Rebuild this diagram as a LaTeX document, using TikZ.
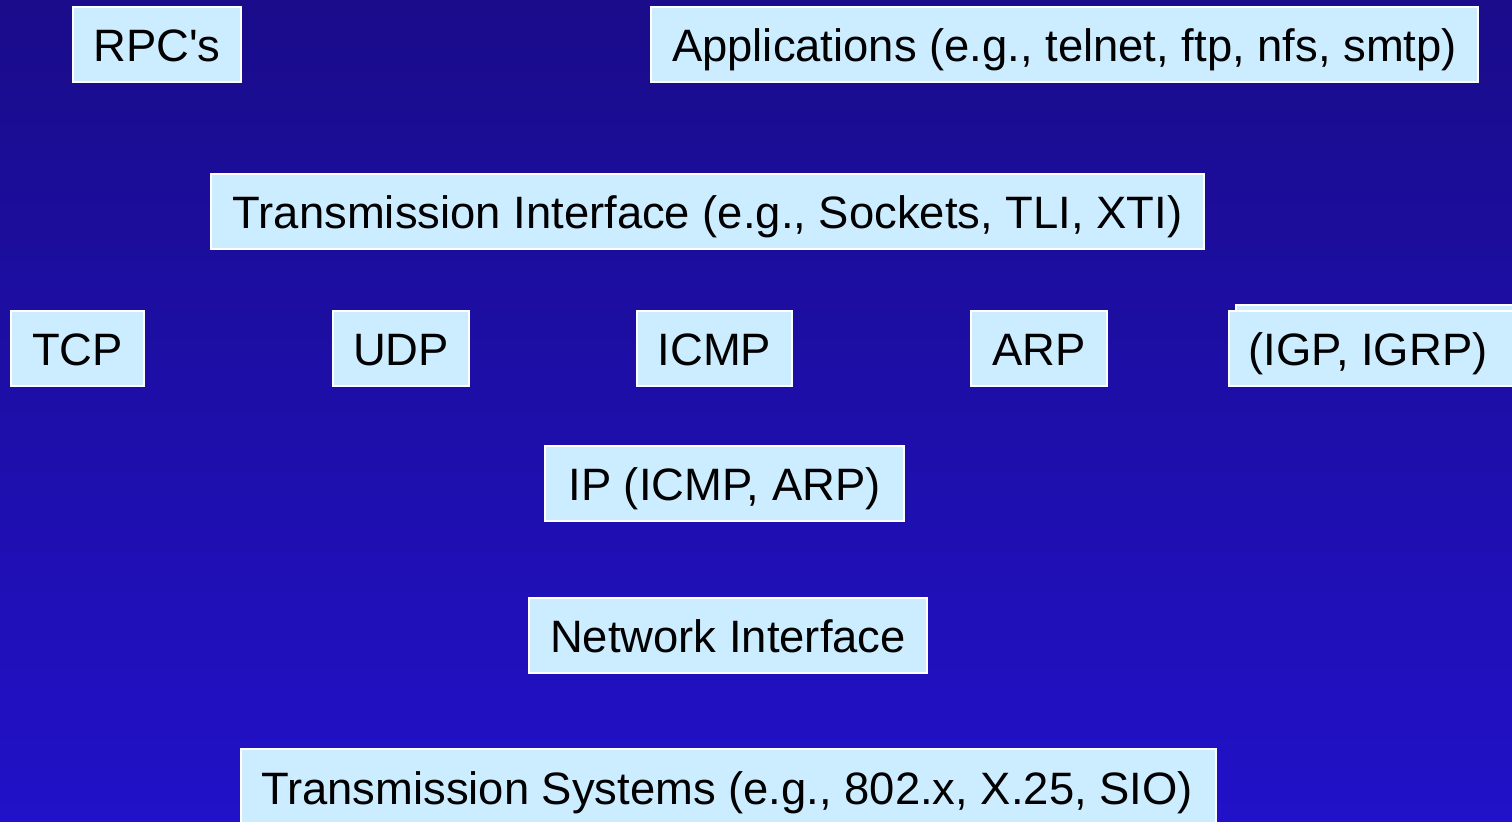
\documentclass[tikz,border=0pt]{standalone}
\usepackage{fontspec}
\setmainfont{Liberation Sans}
\definecolor{bgtop}{RGB}{26,12,138}
\definecolor{bgbot}{RGB}{33,17,200}
\definecolor{boxfill}{HTML}{CCECFF}
\tikzset{
  lfont/.style={font=\fontsize{22.7}{27}\selectfont, text=black, text height=17.5pt, text depth=0pt},
  layer/.style={draw=white, line width=1pt, fill=boxfill, inner sep=0pt, outer sep=0pt, lfont},
}
\begin{document}
\begin{tikzpicture}[x=0.5pt,y=-0.5pt]
\shade[top color=bgtop, bottom color=bgbot] (0,0) rectangle (1512,822);
\useasboundingbox (0,0) rectangle (1512,822);
\node[layer, minimum width=84pt, minimum height=37.5pt] (rpc) at (157,44.5) {RPC\textquotesingle s};
\node[layer, minimum width=413.5pt, minimum height=37.5pt] (app) at (1064.5,44.5) {Applications (e.g., telnet, ftp, nfs, smtp)};
\node[layer, minimum width=496.5pt, minimum height=37.5pt] (ti) at (707.5,211.5) {Transmission Interface (e.g., Sockets, TLI, XTI)};
\node[layer, minimum width=66.5pt, minimum height=37.5pt] (tcp) at (77.5,348.5) {TCP};
\node[layer, minimum width=68pt, minimum height=37.5pt] (udp) at (401,348.5) {UDP};
\node[layer, minimum width=77.5pt, minimum height=37.5pt] (icmp) at (714.5,348.5) {ICMP};
\node[layer, minimum width=68pt, minimum height=37.5pt] (arp) at (1039,348.5) {ARP};
\node[layer, minimum width=150pt, minimum height=37.5pt, anchor=north west] (igpback) at (1236,305) {};
\node[layer, minimum width=150pt, minimum height=37.5pt, anchor=north west] (igp) at (1229,311) {};
\node[lfont] (igptext) at (1368,348.5) {(IGP, IGRP)};
\node[layer, minimum width=179.5pt, minimum height=37.5pt] (ip) at (724.5,483.5) {IP (ICMP, ARP)};
\node[layer, minimum width=199pt, minimum height=37.5pt] (ni) at (728,635.5) {Network Interface};
\node[layer, minimum width=487.5pt, minimum height=40pt, anchor=north west] (ts) at (241,749) {};
\node[lfont] (tstext) at (727,787.5) {Transmission Systems (e.g., 802.x, X.25, SIO)};
\end{tikzpicture}
\end{document}
